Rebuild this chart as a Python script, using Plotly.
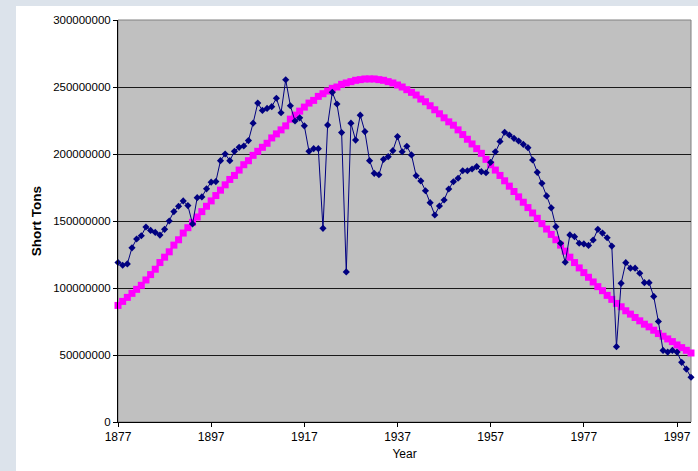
import plotly.graph_objects as go

years = list(range(1877, 2001))

actual_m = [
    119, 117, 118, 130, 136.6, 139, 145.5, 143, 141.5, 139.5,          # 1877-1886
    143.8, 150, 157, 161, 165, 161.5, 147.8, 167.4, 168, 174,          # 1887-1896
    179, 179.4, 195, 200, 195, 202, 205, 206, 210, 223,                # 1897-1906
    238, 232.5, 234, 235.3, 241.6, 230.8, 255.4, 236, 224.6, 227,      # 1907-1916
    221, 202, 204, 204, 144.5, 221.6, 246, 237.3, 216, 112,            # 1917-1926
    223, 210.4, 229, 216.7, 195, 185.6, 184.5, 196, 198, 202.5,        # 1927-1936
    213, 201.7, 205.8, 199.3, 183.8, 179.9, 172.6, 163.7, 154.5, 161.2,  # 1937-1946
    165.7, 173.9, 179.3, 181.9, 187.5, 187.5, 188.8, 190.6, 186.8, 186,  # 1947-1956
    193.8, 201.7, 209.4, 216.2, 214.2, 211.7, 209.7, 207.2, 204.7, 195.5,  # 1957-1966
    186.3, 178.1, 168.7, 159.8, 145.8, 133.4, 119.2, 139.6, 138.3, 133.4,  # 1967-1976
    132.9, 131.8, 135.8, 143.8, 141, 137.5, 131.3, 56.2, 103.5, 118.9,     # 1977-1986
    114.8, 114.8, 111, 104, 104, 93.7, 75, 53.4, 52.2, 53.4,             # 1987-1996
    52.2, 44.5, 39.5, 33.4,                                            # 1997-2000
]

# Fitted curve (millions of short tons)
fitted_m = [
    87, 90, 93, 96, 99, 102, 106, 110, 114, 119,                       # 1877-1886
    123, 127, 132, 136, 141, 145, 149, 153, 157, 161,                  # 1887-1896
    165, 169, 173, 177, 181, 184, 188, 192, 195, 199,                  # 1897-1906
    202, 205, 208, 212, 215, 218, 221, 226, 229, 232,                  # 1907-1916
    235, 238, 240, 243, 245, 247, 249, 250, 252, 253,                  # 1917-1926
    254, 255, 255.5, 256, 256, 256, 255.5, 255, 254, 253,              # 1927-1936
    251.5, 250, 248, 246, 244, 241, 239, 236, 233, 230,                # 1937-1946
    227, 224, 221.5, 218, 214.5, 211, 207.5, 204, 200.5, 196,          # 1947-1956
    192, 188, 184, 180, 176, 172, 168, 164, 160, 156,                  # 1957-1966
    152, 148, 144, 140, 136, 132, 127.5, 123, 119, 115,                # 1967-1976
    111.5, 108, 104.5, 101, 98, 94.5, 91.5, 88.5, 86, 83,              # 1977-1986
    80.5, 78, 75.5, 73, 71, 68.5, 66, 64, 62, 60,                      # 1987-1996
    57.5, 55.5, 53.5, 51.5,                                            # 1997-2000
]

x_ticks = [1877, 1897, 1917, 1937, 1957, 1977, 1997]
y_ticks = [0, 50000000, 100000000, 150000000, 200000000, 250000000, 300000000]

actual = [v * 1e6 for v in actual_m]
fitted = [v * 1e6 for v in fitted_m]

W, H = 698, 471
L, R, T, B = 118, 7, 20, 49
pw, ph = W - L - R, H - T - B

FONT = "Arial, Liberation Sans, sans-serif"
BAND = "#dce3eb"

fig = go.Figure()
fig.add_trace(go.Scatter(
    x=years, y=fitted, mode="lines+markers",
    line=dict(color="#ff00ff", width=2),
    marker=dict(symbol="square", size=7, color="#ff00ff"),
    showlegend=False, cliponaxis=False,
))
fig.add_trace(go.Scatter(
    x=years, y=actual, mode="lines+markers",
    line=dict(color="#000080", width=1),
    marker=dict(symbol="diamond", size=5.5, color="#000080"),
    showlegend=False, cliponaxis=False,
))

def px_x(p):
    return (p - L) / pw

def px_y(p):
    return (H - B - p) / ph

shapes = [
    # light outer band left and top
    dict(type="rect", xref="paper", yref="paper", x0=px_x(0), x1=px_x(16),
         y0=px_y(H), y1=px_y(0), fillcolor=BAND, line=dict(width=0), layer="below"),
    dict(type="rect", xref="paper", yref="paper", x0=px_x(0), x1=px_x(W),
         y0=px_y(6), y1=px_y(0), fillcolor=BAND, line=dict(width=0), layer="below"),
    # plot border
    dict(type="rect", xref="paper", yref="paper", x0=0, x1=1, y0=0, y1=1,
         line=dict(color="#808080", width=1), layer="below"),
]

fig.update_layout(
    width=W, height=H,
    margin=dict(l=L, r=R, t=T, b=B),
    paper_bgcolor="white",
    plot_bgcolor="#c0c0c0",
    font=dict(family=FONT, size=12, color="black"),
    shapes=shapes,
    xaxis=dict(
        range=[1877, 2000], tickvals=x_ticks, ticktext=[str(v) for v in x_ticks],
        showgrid=False, zeroline=False,
        showline=True, linecolor="black", linewidth=1,
        ticks="outside", ticklen=4, tickcolor="black",
        tickfont=dict(size=12),
        title=dict(text="Year", font=dict(size=12), standoff=6),
    ),
    yaxis=dict(
        range=[0, 300000000], tickvals=y_ticks, tickformat="d",
        showgrid=True, gridcolor="#1a1a1a", gridwidth=1, zeroline=False,
        showline=True, linecolor="black", linewidth=1,
        ticks="outside", ticklen=4, tickcolor="black",
        tickfont=dict(size=11.5),
        title=dict(text="<b>Short Tons</b>", font=dict(size=13.5), standoff=8),
    ),
)

fig.write_html("out.html")
